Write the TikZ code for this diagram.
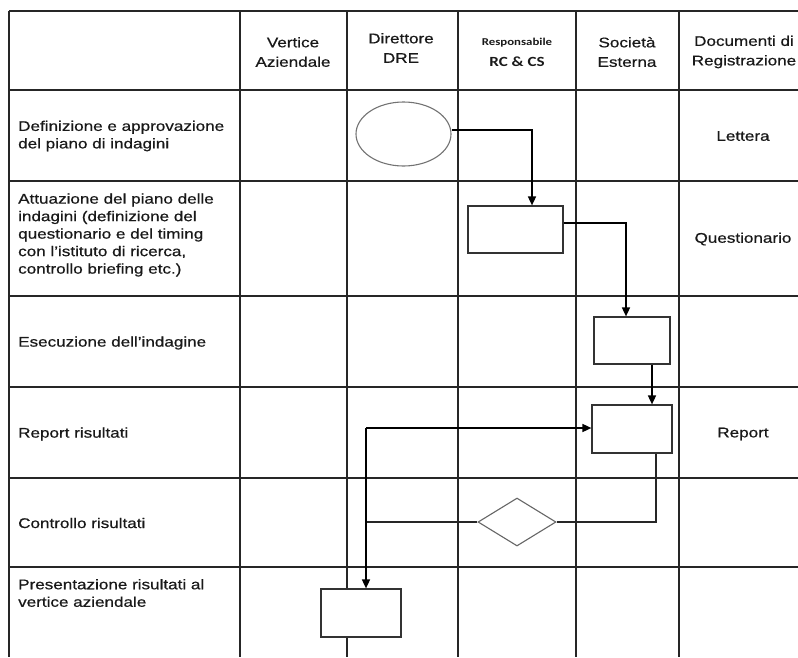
\documentclass[tikz,border=0pt]{standalone}
\usepackage{fontspec}
\setmainfont[FakeStretch=1.22,FakeBold=0.6]{Liberation Sans}
\newfontfamily\calfont[FakeStretch=1.22]{Carlito}
\usetikzlibrary{shapes.geometric,arrows.meta}
\begin{document}
\begin{tikzpicture}[x=1pt,y=-1pt,
  grid/.style={line width=1.6pt,draw=black!85},
  txt/.style={font=\fontsize{14}{17.5}\selectfont, text=black!90, inner sep=0pt},
  hdr/.style={txt, align=center, font=\fontsize{14}{19.5}\selectfont},
  lbl/.style={txt, align=left, anchor=west},
  box/.style={draw=black!80, line width=1.2pt, fill=white, rectangle, inner sep=0pt},
  conn/.style={draw=black, line width=1.6pt, -{Triangle[length=9pt,width=8pt]}},
  link/.style={draw=black!85, line width=1.4pt}
]
\useasboundingbox (0,0) rectangle (798,657);
% table grid
\draw[grid] (9,11) -- (798,11);
\foreach \y in {90,181,296,387,478,567} \draw[grid] (9,\y) -- (798,\y);
\foreach \x in {9,240,347,458,576,679} \draw[grid] (\x,11) -- (\x,657);

% header
\node[hdr] (h1) at (293,52) {Vertice\\Aziendale};
\node[hdr] (h2) at (401,48) {Direttore\\DRE};
\node[txt, font=\calfont\bfseries\fontsize{10.5}{12}\selectfont] (h3a) at (517,43) {Responsabile};
\node[txt, font=\calfont\bfseries\fontsize{14}{16}\selectfont] (h3b) at (517,62) {RC \& CS};
\node[hdr] (h4) at (627,52) {Società\\Esterna};
\node[hdr] (h5) at (744,52) {Documenti di\\Registrazione};

% row labels
\node[lbl] (r1) at (18,136) {Definizione e approvazione\\del piano di indagini};
\node[lbl] (r2) at (18,235) {Attuazione del piano delle\\indagini (definizione del\\questionario e del timing\\con l'istituto di ricerca,\\controllo briefing etc.)};
\node[lbl] (r3) at (18,343) {Esecuzione dell'indagine};
\node[lbl] (r4) at (18,434) {Report risultati};
\node[lbl] (r5) at (18,523) {Controllo risultati};
\node[lbl] (r6) at (18,593) {Presentazione risultati al\\vertice aziendale};

% documents
\node[txt] (d1) at (743,136) {Lettera};
\node[txt] (d2) at (743,239) {Questionario};
\node[txt] (d3) at (743,434) {Report};

% flow shapes
\node[ellipse, draw=black!55, line width=1.1pt, fill=white, minimum width=95, minimum height=64, inner sep=0pt] (ell) at (403.5,134) {};
\node[box, minimum width=95, minimum height=47] (ba) at (515.5,229.5) {};
\node[box, minimum width=76, minimum height=47] (bb) at (632,340.5) {};
\node[box, minimum width=80, minimum height=48] (bc) at (632,429) {};
\node[diamond, draw=black!60, line width=1.1pt, fill=white, minimum width=78, minimum height=48, inner sep=0pt] (dia) at (517,522) {};
\node[box, minimum width=80, minimum height=48] (bd) at (361,613) {};

% connectors
\draw[conn] ([yshift=4]ell.east) -| ([xshift=16.5]ba.north);
\draw[conn] ([yshift=6.5]ba.east) -| ([xshift=-6]bb.north);
\draw[conn] ([xshift=20]bb.south) -- ([xshift=20]bc.north);
\draw[link] ([xshift=24]bc.south) |- (dia.east);
\coordinate (j) at (366,428);
\draw[link] (dia.west) -- (dia.west -| j);
\draw[conn] (j) -- ([yshift=1]bc.west);
\draw[conn] (j) -- ([xshift=5]bd.north);
\end{tikzpicture}
\end{document}
